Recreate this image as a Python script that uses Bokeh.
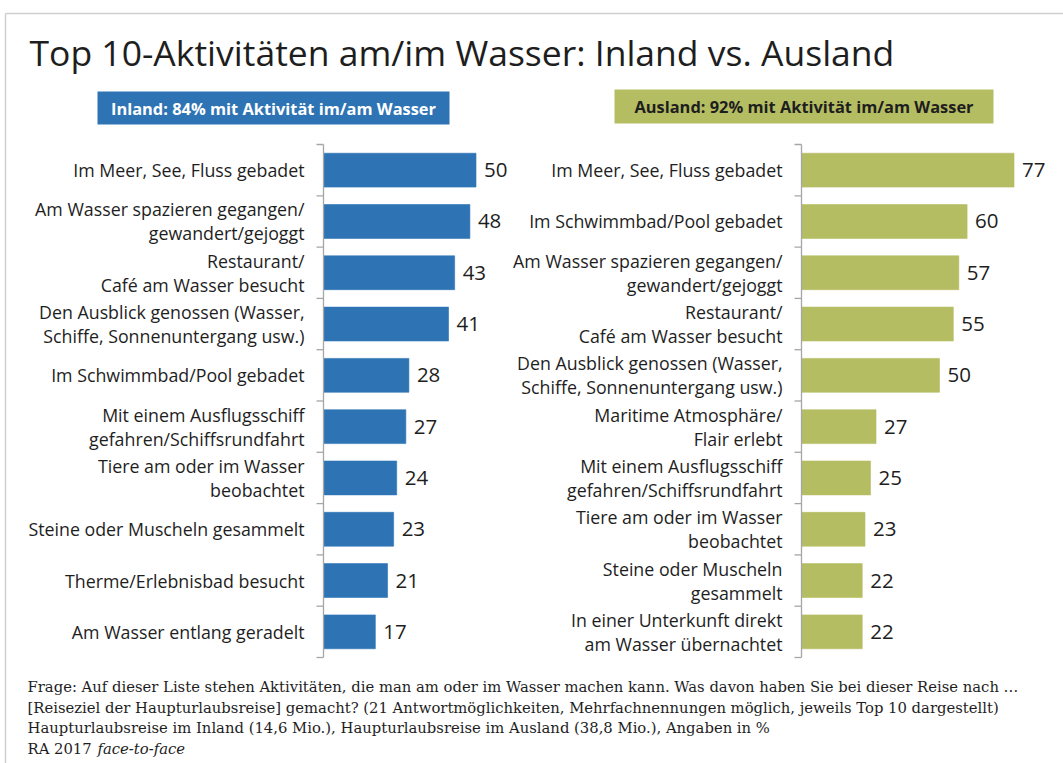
from bokeh.plotting import figure
from bokeh.models import Range1d
from bokeh.core.properties import value
from bokeh.embed import file_html
from bokeh.resources import INLINE

# ---------------- data ----------------
title_text = "Top 10-Aktivitäten am/im Wasser: Inland vs. Ausland"
inland_header = "Inland: 84% mit Aktivität im/am Wasser"
ausland_header = "Ausland: 92% mit Aktivität im/am Wasser"

inland_labels = [
    "Im Meer, See, Fluss gebadet",
    "Am Wasser spazieren gegangen/\ngewandert/gejoggt",
    "Restaurant/\nCafé am Wasser besucht",
    "Den Ausblick genossen (Wasser,\nSchiffe, Sonnenuntergang usw.)",
    "Im Schwimmbad/Pool gebadet",
    "Mit einem Ausflugsschiff\ngefahren/Schiffsrundfahrt",
    "Tiere am oder im Wasser\nbeobachtet",
    "Steine oder Muscheln gesammelt",
    "Therme/Erlebnisbad besucht",
    "Am Wasser entlang geradelt",
]
inland_values = [50, 48, 43, 41, 28, 27, 24, 23, 21, 17]

ausland_labels = [
    "Im Meer, See, Fluss gebadet",
    "Im Schwimmbad/Pool gebadet",
    "Am Wasser spazieren gegangen/\ngewandert/gejoggt",
    "Restaurant/\nCafé am Wasser besucht",
    "Den Ausblick genossen (Wasser,\nSchiffe, Sonnenuntergang usw.)",
    "Maritime Atmosphäre/\nFlair erlebt",
    "Mit einem Ausflugsschiff\ngefahren/Schiffsrundfahrt",
    "Tiere am oder im Wasser\nbeobachtet",
    "Steine oder Muscheln\ngesammelt",
    "In einer Unterkunft direkt\nam Wasser übernachtet",
]
ausland_values = [77, 60, 57, 55, 50, 27, 25, 23, 22, 22]

footer_lines = [
    "Frage: Auf dieser Liste stehen Aktivitäten, die man am oder im Wasser machen kann. Was davon haben Sie bei dieser Reise nach \u2026",
    "[Reiseziel der Haupturlaubsreise] gemacht? (21 Antwortmöglichkeiten, Mehrfachnennungen möglich, jeweils Top 10 dargestellt)",
    "Haupturlaubsreise im Inland (14,6 Mio.), Haupturlaubsreise im Ausland (38,8 Mio.), Angaben in %",
    "RA 2017",
]
footer_italic = "face-to-face"

# ---------------- style / layout ----------------
W, H = 1063, 763
BLUE = "#2E74B5"
OLIVE = "#B5BD62"
DARK = "#1E1E1E"
AXIS = "#A6A6A6"
SANS = value("Open Sans")
SERIF = value("DejaVu Serif")

L_ZERO, L_SCALE = 323, 3.05   # pixel of value 0, px per unit (Inland)
R_ZERO, R_SCALE = 801, 2.76   # (Ausland)
CAT_TOP, BAND = 144, 51.3      # top of category axis, band height (px)
TICK = 7

p = figure(width=W, height=H, output_backend="svg", toolbar_location=None,
           x_range=Range1d(0, W), y_range=Range1d(H, 0),
           x_axis_location=None, y_axis_location=None,
           min_border=0, outline_line_color=None)
p.grid.visible = False
p.background_fill_color = "white"
p.border_fill_color = "white"

p.extra_x_ranges = {
    "L": Range1d(-L_ZERO / L_SCALE, (W - L_ZERO) / L_SCALE),
    "R": Range1d(-R_ZERO / R_SCALE, (W - R_ZERO) / R_SCALE),
}
p.extra_y_ranges = {"cat": Range1d((H - CAT_TOP) / BAND, -CAT_TOP / BAND)}

# frame border
p.segment(x0=[5, 5], y0=[13, 13], x1=[W, 5], y1=[13, H], line_color="#CFCFCF", line_width=1.5)

# title
p.text(x=[29], y=[51], text=[title_text], text_font=SANS,
       text_font_size="35.5px", text_color=DARK, text_baseline="middle", text_align="left")

# headers
p.quad(left=[97], right=[449], top=[91], bottom=[124], fill_color=BLUE, line_color=None)
p.text(x=[273], y=[107.5], text=[inland_header], text_font=SANS, text_font_style="bold",
       text_font_size="16.4px", text_color="white", text_align="center", text_baseline="middle")
p.quad(left=[614], right=[993], top=[89], bottom=[123], fill_color=OLIVE, line_color=None)
p.text(x=[803.5], y=[106], text=[ausland_header], text_font=SANS, text_font_style="bold",
       text_font_size="16.4px", text_color=DARK, text_align="center", text_baseline="middle")


def panel(labels, values, color, xr, scale):
    n = len(values)
    ypos = [i + 0.5 for i in range(n)]
    bounds = list(range(n + 1))
    p.hbar(y=ypos, left=0, right=values, height=0.66, fill_color=color, line_color=color,
           line_alpha=0.6, x_range_name=xr, y_range_name="cat")
    # axis line + outward ticks at band boundaries
    p.segment(x0=[0], y0=[0], x1=[0], y1=[n], line_color=AXIS, line_width=1.3,
              x_range_name=xr, y_range_name="cat")
    p.segment(x0=[0] * (n + 1), y0=bounds, x1=[-TICK / scale] * (n + 1), y1=bounds,
              line_color=AXIS, line_width=1.3, x_range_name=xr, y_range_name="cat")
    p.text(x=[0] * n, y=ypos, text=labels, x_offset=-19, text_align="right", text_baseline="middle",
           text_font=SANS, text_font_size="17.8px", text_color=DARK,
           text_line_height=1.0, x_range_name=xr, y_range_name="cat")
    p.text(x=values, y=ypos, text=[str(v) for v in values], x_offset=8, text_align="left",
           text_baseline="middle", text_font=SANS, text_font_size="20.5px",
           text_color=DARK, x_range_name=xr, y_range_name="cat")


panel(inland_labels, inland_values, BLUE, "L", L_SCALE)
panel(ausland_labels, ausland_values, OLIVE, "R", R_SCALE)

# footer
p.text(x=[27] * 4, y=[686, 706.5, 727, 747.5], text=footer_lines, text_font=SERIF,
       text_font_size="14.8px", text_color=DARK, text_align="left", text_baseline="middle")
p.text(x=[97], y=[747.5], text=[footer_italic], text_font=SERIF,
       text_font_style="italic", text_font_size="14.8px", text_color=DARK,
       text_align="left", text_baseline="middle")

open("out.html", "w").write(file_html(p, INLINE))
